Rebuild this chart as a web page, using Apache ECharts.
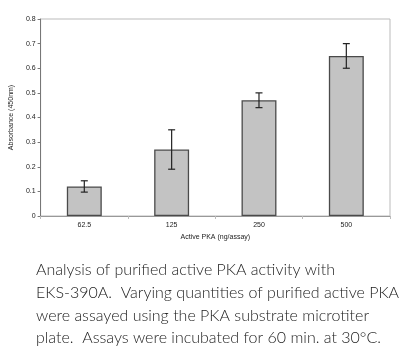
<!DOCTYPE html>
<html><head><meta charset="utf-8">
<script src="https://cdn.jsdelivr.net/npm/echarts@6/dist/echarts.min.js"></script>
<style>html,body{margin:0;padding:0;background:#fff}#c{width:414px;height:364px}</style>
</head><body><div id="c"></div>
<script>
var categories = ['62.5', '125', '250', '500'];
var values = [0.12, 0.27, 0.47, 0.65];
var errors = [0.023, 0.08, 0.03, 0.05];
var yTicks = [0, 0.1, 0.2, 0.3, 0.4, 0.5, 0.6, 0.7, 0.8];
var caption = [
  'Analysis of purified active PKA activity with',
  'EKS-390A.  Varying quantities of purified active PKA',
  'were assayed using the PKA substrate microtiter',
  'plate.  Assays were incubated for 60 min. at 30\u00B0C.'
];

var errData = values.map(function (v, i) { return [i, v - errors[i], v + errors[i]]; });

var chart = echarts.init(document.getElementById('c'), null, {renderer: 'canvas'});
var capGraphics = caption.map(function (t, i) {
  return {type: 'text', left: 36, top: 262 + i * 22.7,
    style: {text: t, font: '300 16px Lato', fill: '#222'}};
});
chart.setOption({
  animation: false,
  grid: {left: 34, right: 24, top: 19, bottom: 148, show: true, borderColor: '#bbb', borderWidth: 1},
  xAxis: {
    type: 'category', data: categories,
    name: 'Active PKA (ng/assay)', nameLocation: 'middle', nameGap: 17,
    nameTextStyle: {fontFamily: 'Liberation Sans', fontSize: 7, color: '#222'},
    axisLine: {lineStyle: {color: '#999', width: 1}},
    axisTick: {show: true, length: 3, lineStyle: {color: '#bbb'}},
    axisLabel: {fontFamily: 'Liberation Sans', fontSize: 7, color: '#222', margin: 6}
  },
  yAxis: {
    type: 'value', min: 0, max: 0.8, interval: 0.1,
    name: 'Absorbance (450nm)', nameLocation: 'middle', nameGap: 24,
    nameTextStyle: {fontFamily: 'Liberation Sans', fontSize: 7, color: '#222'},
    axisLine: {show: true, lineStyle: {color: '#777', width: 1}},
    axisTick: {show: true, length: 3, lineStyle: {color: '#777'}},
    splitLine: {show: false},
    axisLabel: {fontFamily: 'Liberation Sans', fontSize: 7, color: '#222', margin: 5,
      formatter: function (v) { return v === 0 ? '0' : v.toFixed(1); }}
  },
  series: [
    {type: 'bar', data: values, barWidth: '40%',
      itemStyle: {color: '#c3c3c3', borderColor: '#4a4a4a', borderWidth: 1.3}},
    {type: 'custom', data: errData, z: 5,
      renderItem: function (params, api) {
        var x = api.value(0);
        var lo = api.coord([x, api.value(1)]);
        var hi = api.coord([x, api.value(2)]);
        var w = 3.5;
        var st = {stroke: '#222', lineWidth: 1.2};
        return {type: 'group', children: [
          {type: 'line', shape: {x1: lo[0], y1: lo[1], x2: hi[0], y2: hi[1]}, style: st},
          {type: 'line', shape: {x1: lo[0] - w, y1: lo[1], x2: lo[0] + w, y2: lo[1]}, style: st},
          {type: 'line', shape: {x1: hi[0] - w, y1: hi[1], x2: hi[0] + w, y2: hi[1]}, style: st}
        ]};
      }}
  ],
  graphic: capGraphics
});
</script></body></html>
